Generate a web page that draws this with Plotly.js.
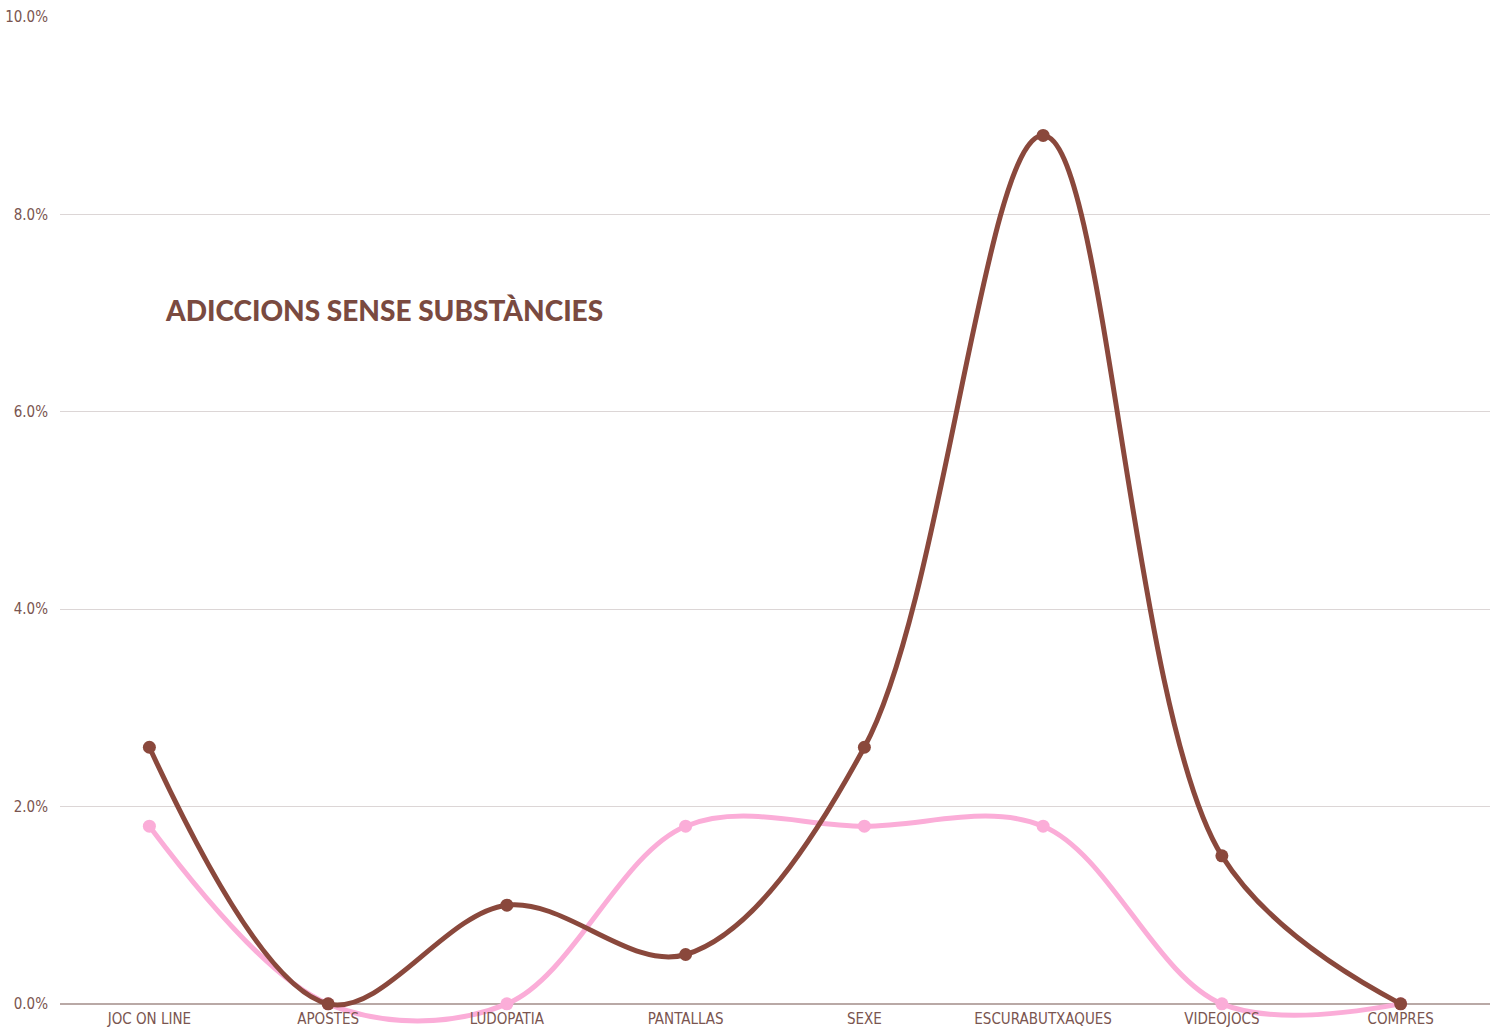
<!DOCTYPE html>
<html>
<head>
<meta charset="utf-8">
<script src="https://cdn.plot.ly/plotly-3.0.1.min.js"></script>
<style>
html,body{margin:0;padding:0;background:#fff;}
#chart{width:1495px;height:1030px;}
</style>
</head>
<body>
<div id="chart"></div>
<script>
const categories = ["JOC ON LINE","APOSTES","LUDOPATIA","PANTALLAS","SEXE","ESCURABUTXAQUES","VIDEOJOCS","COMPRES"];
const seriesDark = [2.6, 0.0, 1.0, 0.5, 2.6, 8.8, 1.5, 0.0];
const seriesPink = [1.8, 0.0, 0.0, 1.8, 1.8, 1.8, 0.0, 0.0];
const yTicks = [0, 2, 4, 6, 8, 10];
const yTickText = yTicks.map(v => v.toFixed(1) + "%");
const annotationText = "ADICCIONS SENSE SUBSTÀNCIES";

const textColor = "#7a5550";
const condensed = "'DejaVu Sans Condensed', 'Liberation Sans Narrow', 'Roboto', sans-serif";

const traces = [
  {
    x: categories, y: seriesPink, type: "scatter", mode: "lines+markers",
    line: {shape: "spline", smoothing: 1, color: "#fbadd8", width: 5},
    marker: {size: 13, color: "#fbadd8"},
    cliponaxis: false,
    hoverinfo: "skip", showlegend: false
  },
  {
    x: categories, y: seriesDark, type: "scatter", mode: "lines+markers",
    line: {shape: "spline", smoothing: 1, color: "#8a483c", width: 5},
    marker: {size: 13, color: "#8a483c"},
    cliponaxis: false,
    hoverinfo: "skip", showlegend: false
  }
];

const layout = {
  width: 1495, height: 1030,
  margin: {l: 60, r: 5, t: 17, b: 0},
  paper_bgcolor: "#ffffff", plot_bgcolor: "#ffffff",
  showlegend: false,
  xaxis: {
    type: "category", range: [-0.5, 7.5],
    showgrid: false, zeroline: false,
    showline: false, ticks: "",
    ticklabelposition: "inside",
    tickfont: {family: condensed, size: 15, color: textColor},
    fixedrange: true
  },
  yaxis: {
    range: [-0.265, 10], tickvals: yTicks, ticktext: yTickText,
    showgrid: true, gridcolor: "#dcd6d6", gridwidth: 1,
    zeroline: true, zerolinecolor: "#b9a9a6", zerolinewidth: 1.5,
    showline: false, ticks: "",
    ticklabelstandoff: 11,
    tickfont: {family: condensed, size: 15, color: textColor},
    fixedrange: true
  },
  annotations: [{
    text: annotationText, xref: "paper", yref: "y",
    x: 0.072, y: 7.03, xanchor: "left", yanchor: "middle",
    showarrow: false,
    font: {family: "'Lato', 'DejaVu Sans', sans-serif", size: 28, color: "#7a4a40", weight: 900}
  }]
};

Plotly.newPlot("chart", traces, layout, {displayModeBar: false, staticPlot: true});
</script>
</body>
</html>
